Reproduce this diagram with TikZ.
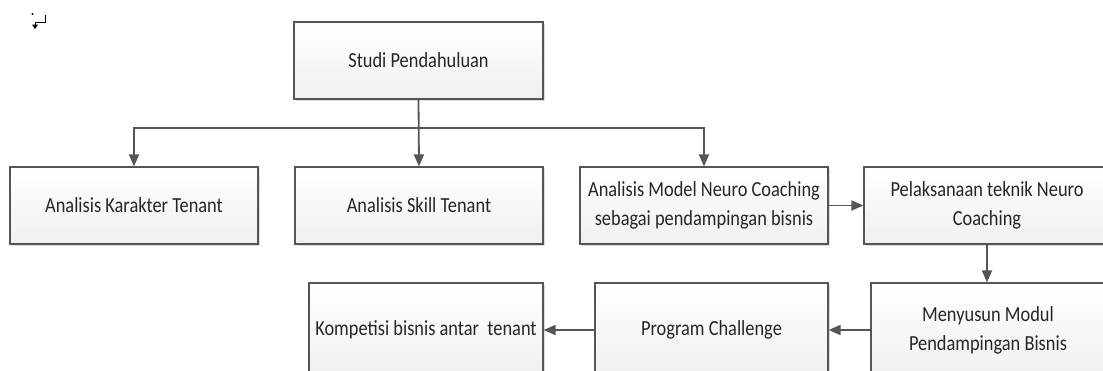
\documentclass[tikz,border=0pt]{standalone}
\usepackage{fontspec}
\setmainfont{Carlito}[FakeStretch=0.855]
\usetikzlibrary{arrows.meta,shadows}
\definecolor{linec}{HTML}{555555}
\tikzset{
  box/.style={draw=linec, line width=1.2pt, top color=white, bottom color=gray!12,
    drop shadow={shadow xshift=2pt, shadow yshift=-2pt, fill=gray!45, opacity=0.6},
    align=center, inner sep=2pt,
    font=\fontsize{21.5}{29}\selectfont, text=black!85},
  arr/.style={draw=linec, line width=1.8pt, -{Triangle[length=12pt,width=10pt]}},
}
\begin{document}
\begin{tikzpicture}[x=1pt,y=-1pt]
\useasboundingbox (0,0) rectangle (1103,370);
\clip (0,0) rectangle (1103,370);
% line-break mark
\fill[black] (32.5,14) circle (1.1);
\draw[black, line width=0.9pt] (45,15) -- (45,22) -- (35,22) -- (35,25);
\fill[black] (32,24.5) -- (38,24.5) -- (35,29) -- cycle;
% boxes
\node[box, minimum width=249pt, minimum height=77pt] (top) at (418.5,60.5) {Studi Pendahuluan};
\node[box, minimum width=248pt, minimum height=77pt] (b1) at (134,205.5) {Analisis Karakter Tenant};
\node[box, minimum width=248pt, minimum height=77pt] (b2) at (419,205.5) {Analisis Skill Tenant};
\node[box, minimum width=248pt, minimum height=77pt] (b3) at (704,205.5) {Analisis Model Neuro Coaching\\sebagai pendampingan bisnis};
\node[box, minimum width=246pt, minimum height=77pt] (b4) at (987,205.5) {Pelaksanaan teknik Neuro\\Coaching};
\node[box, minimum width=234pt, minimum height=94pt] (b5) at (988,330) {Menyusun Modul\\Pendampingan Bisnis};
\node[box, minimum width=233pt, minimum height=94pt] (b6) at (711.5,330) {Program Challenge};
\node[box, minimum width=234pt, minimum height=94pt] (b7) at (426,330) {Kompetisi bisnis antar\ \ tenant};
% connectors
\coordinate (split) at (419,128);
\draw[arr] (top.south) -- (b2.north);
\draw[arr] (split) -| (b1.north);
\draw[arr] (split) -| (b3.north);
\draw[arr] (b3.east) -- (b4.west);
\draw[arr] (b4.south) -- (b4.south |- b5.north);
\draw[arr] (b5.west) -- (b6.east);
\draw[arr] (b6.west) -- (b7.east);
\end{tikzpicture}
\end{document}
